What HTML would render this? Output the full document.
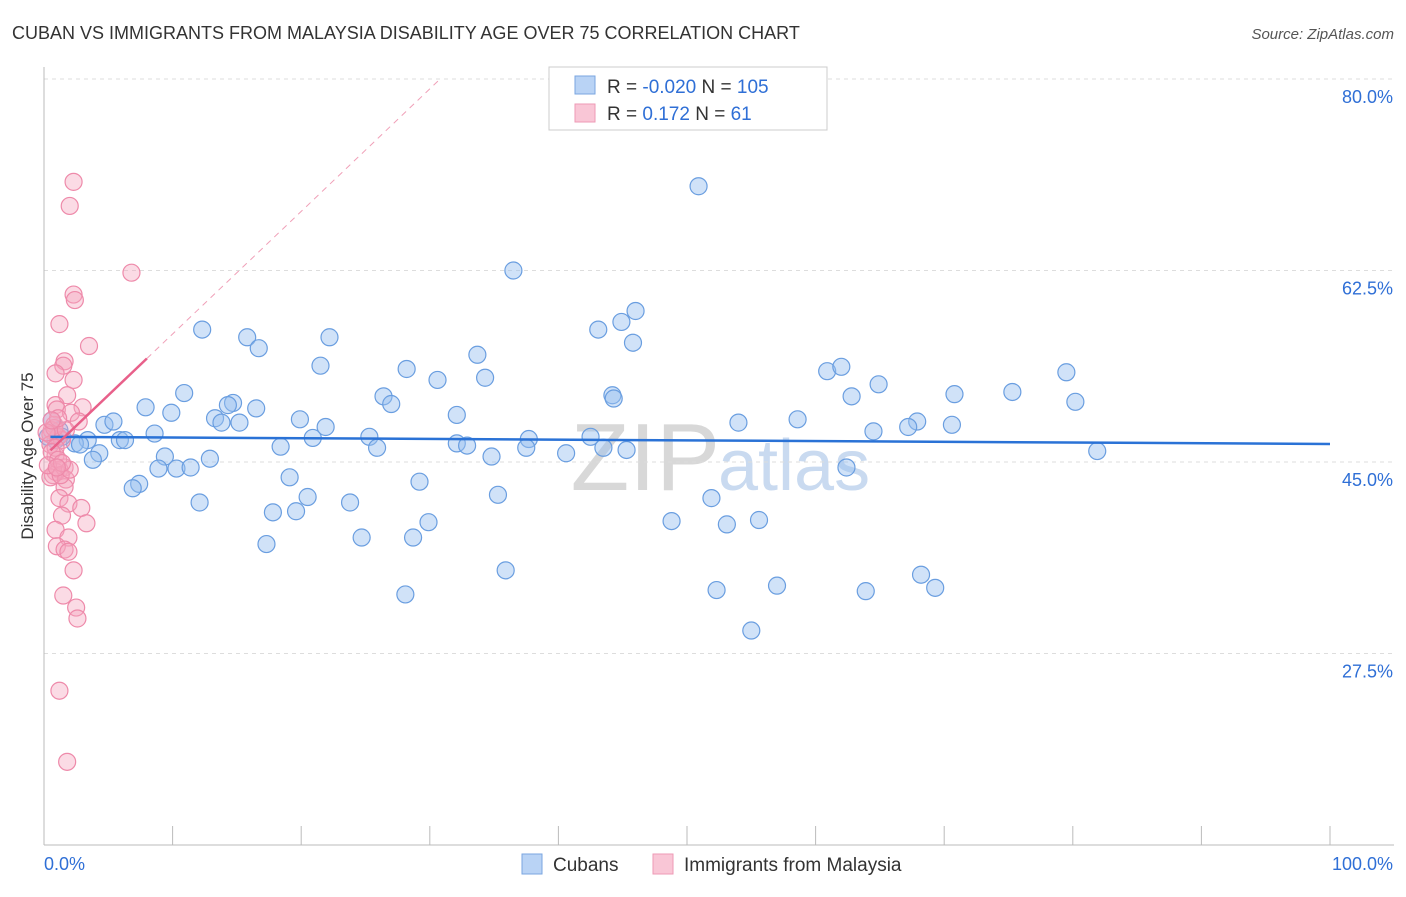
<!DOCTYPE html>
<html><head><meta charset="utf-8"><style>
body{margin:0;background:#fff;font-family:"Liberation Sans",sans-serif;}
svg text{font-family:"Liberation Sans",sans-serif;}
</style></head><body>
<svg id="c" width="1406" height="892">
<text x="12" y="39" font-size="18" fill="#333">CUBAN VS IMMIGRANTS FROM MALAYSIA DISABILITY AGE OVER 75 CORRELATION CHART</text>
<text x="1394" y="39" font-size="15" fill="#555" text-anchor="end" font-style="italic">Source: ZipAtlas.com</text>
<text x="0" y="0" transform="translate(33,456) rotate(-90)" font-size="17" fill="#333" text-anchor="middle">Disability Age Over 75</text>
<text x="720" y="490" font-size="96" fill="#d8d8d8" text-anchor="end" font-family="Liberation Serif">ZIP</text>
<text x="718" y="490" font-size="72" fill="#c9daf0">atlas</text>
<g id="grid"></g><g id="pts"></g><g id="lines"></g>
<g>
<rect x="549" y="67" width="278" height="63" fill="#fff" stroke="#ccc"/>
<rect x="575" y="76" width="20" height="18" fill="#b9d3f5" stroke="#7aa6e0"/>
<rect x="575" y="104" width="20" height="18" fill="#f9c6d6" stroke="#ee9ab5"/>
<text x="607" y="93" font-size="19" fill="#333">R = <tspan fill="#2f6fd6">-0.020</tspan>   N = <tspan fill="#2f6fd6">105</tspan></text>
<text x="607" y="120" font-size="19" fill="#333">R =    <tspan fill="#2f6fd6">0.172</tspan>   N =    <tspan fill="#2f6fd6">61</tspan></text>
</g>
<g>
<rect x="522" y="854" width="20" height="20" fill="#b9d3f5" stroke="#7aa6e0"/>
<text x="553" y="871" font-size="19" fill="#333">Cubans</text>
<rect x="653" y="854" width="20" height="20" fill="#f9c6d6" stroke="#ee9ab5"/>
<text x="684" y="871" font-size="19" fill="#333">Immigrants from Malaysia</text>
</g>
<text x="44" y="870" font-size="18" fill="#2f6fd6">0.0%</text>
<text x="1393" y="870" font-size="18" fill="#2f6fd6" text-anchor="end">100.0%</text>
</svg>
<script>
const yTicks=[80,62.5,45,27.5];
const xTicks=[0,10,20,30,40,50,60,70,80,90,100];
const blueX=[50.9,36.5,46.0,44.9,43.1,45.8,12.3,15.8,22.2,16.7,33.7,21.5,28.2,30.6,34.3,60.9,62.0,64.9,79.5,75.3,70.8,62.8,44.2,44.3,26.4,27.0,80.2,10.9,14.7,14.3,16.5,7.9,9.9,13.3,13.8,15.2,19.9,32.1,21.9,58.6,54.0,67.9,67.2,70.6,64.5,4.7,5.4,8.6,5.9,6.3,3.4,2.4,2.8,20.9,25.3,32.1,32.9,37.7,42.5,37.5,43.5,45.3,40.6,34.8,25.9,18.4,4.3,3.8,9.4,12.9,8.9,10.3,11.4,62.4,81.9,19.1,29.2,7.4,6.9,20.5,12.1,23.8,35.3,51.9,17.8,19.6,29.9,48.8,55.6,53.1,24.7,28.7,17.3,35.9,68.2,52.3,57.0,63.9,69.3,28.1,55.0,0.6,1.2,0.9,0.3,1.4];
const blueY=[70.2,62.5,58.8,57.8,57.1,55.9,57.1,56.4,56.4,55.4,54.8,53.8,53.5,52.5,52.7,53.3,53.7,52.1,53.2,51.4,51.2,51.0,51.1,50.8,51.0,50.3,50.5,51.3,50.4,50.2,49.9,50.0,49.5,49.0,48.6,48.6,48.9,49.3,48.2,48.9,48.6,48.7,48.2,48.4,47.8,48.4,48.7,47.6,47.0,47.0,47.0,46.7,46.6,47.2,47.3,46.7,46.5,47.1,47.3,46.3,46.3,46.1,45.8,45.5,46.3,46.4,45.8,45.2,45.5,45.3,44.4,44.4,44.5,44.5,46.0,43.6,43.2,43.0,42.6,41.8,41.3,41.3,42.0,41.7,40.4,40.5,39.5,39.6,39.7,39.3,38.1,38.1,37.5,35.1,34.7,33.3,33.7,33.2,33.5,32.9,29.6,48.8,47.9,47.0,47.3,47.3];
const pinkX=[2.3,2.0,6.8,2.3,2.4,1.2,3.5,1.6,1.5,0.9,2.3,1.8,3.0,0.9,1.0,2.1,2.7,0.8,0.6,0.5,1.1,1.4,0.9,1.6,1.2,0.9,0.7,0.5,1.7,1.6,1.2,1.9,2.9,1.4,3.3,0.9,1.9,1.0,1.6,1.9,2.3,1.5,2.5,2.6,1.2,1.8,0.5,0.9,0.6,1.1,0.3,1.3,0.8,0.2,1.7,1.1,0.6,2.0,1.4,1.0];
const pinkY=[70.6,68.4,62.3,60.3,59.8,57.6,55.6,54.2,53.8,53.1,52.5,51.1,50.0,50.2,49.8,49.5,48.7,48.4,47.9,47.5,47.3,47.0,45.6,44.5,44.3,44.1,43.8,43.6,43.4,42.7,41.7,41.2,40.8,40.1,39.4,38.8,38.1,37.3,37.0,36.8,35.1,32.8,31.7,30.7,24.1,17.6,46.6,46.3,45.9,45.2,44.7,43.8,48.1,47.7,47.9,49.0,48.8,44.3,44.9,44.5];
const blueTrend=[47.3,46.65];
const pinkTrend=[45.5,1.12];
const X=v=>44+v*12.86, Y=v=>79+(80-v)*10.943;
const NS='http://www.w3.org/2000/svg';
function mk(t,a,p){const e=document.createElementNS(NS,t);for(const k in a)e.setAttribute(k,a[k]);p.appendChild(e);return e;}
const grid=document.getElementById('grid'),pts=document.getElementById('pts'),lines=document.getElementById('lines');
yTicks.forEach(t=>{
const g=mk('line',{x1:44,x2:1394,y1:Y(t),y2:Y(t),stroke:'#ddd','stroke-dasharray':'4,4'},grid);


const l=mk('text',{x:1393,y:Y(t)+24,'font-size':18,fill:'#2f6fd6','text-anchor':'end'},grid);l.textContent=t.toFixed(1)+'%';


});
const ax=mk('line',{x1:44,x2:44,y1:67,y2:845,stroke:'#bbb'},grid);


const bx=mk('line',{x1:44,x2:1394,y1:845,y2:845,stroke:'#bbb'},grid);


xTicks.forEach(t=>{const k=mk('line',{x1:X(t),x2:X(t),y1:826,y2:845,stroke:'#bbb'},grid);

});
blueX.forEach((v,i)=>{const c=mk('circle',{cx:X(v),cy:Y(blueY[i]),r:8.5,fill:'rgba(150,190,240,0.45)',stroke:'#6a9ee0','stroke-width':1.2},pts);

});
pinkX.forEach((v,i)=>{const c=mk('circle',{cx:X(v),cy:Y(pinkY[i]),r:8.5,fill:'rgba(245,165,190,0.4)',stroke:'#ee8aaa','stroke-width':1.2},pts);

});
const bl=mk('line',{x1:X(0.5),y1:Y(blueTrend[0]),x2:X(100),y2:Y(blueTrend[1]),stroke:'#2a72d6','stroke-width':2.5},lines);


const pe=(80-pinkTrend[0])/pinkTrend[1];
const pd=mk('line',{x1:X(8),y1:Y(pinkTrend[0]+8*pinkTrend[1]),x2:X(pe),y2:Y(80),stroke:'#f0a0b8','stroke-width':1,'stroke-dasharray':'6,5'},lines);


const pl=mk('line',{x1:X(0.5),y1:Y(pinkTrend[0]+0.5*pinkTrend[1]),x2:X(8),y2:Y(pinkTrend[0]+8*pinkTrend[1]),stroke:'#e8608a','stroke-width':2.5},lines);


</script>
</body></html>
